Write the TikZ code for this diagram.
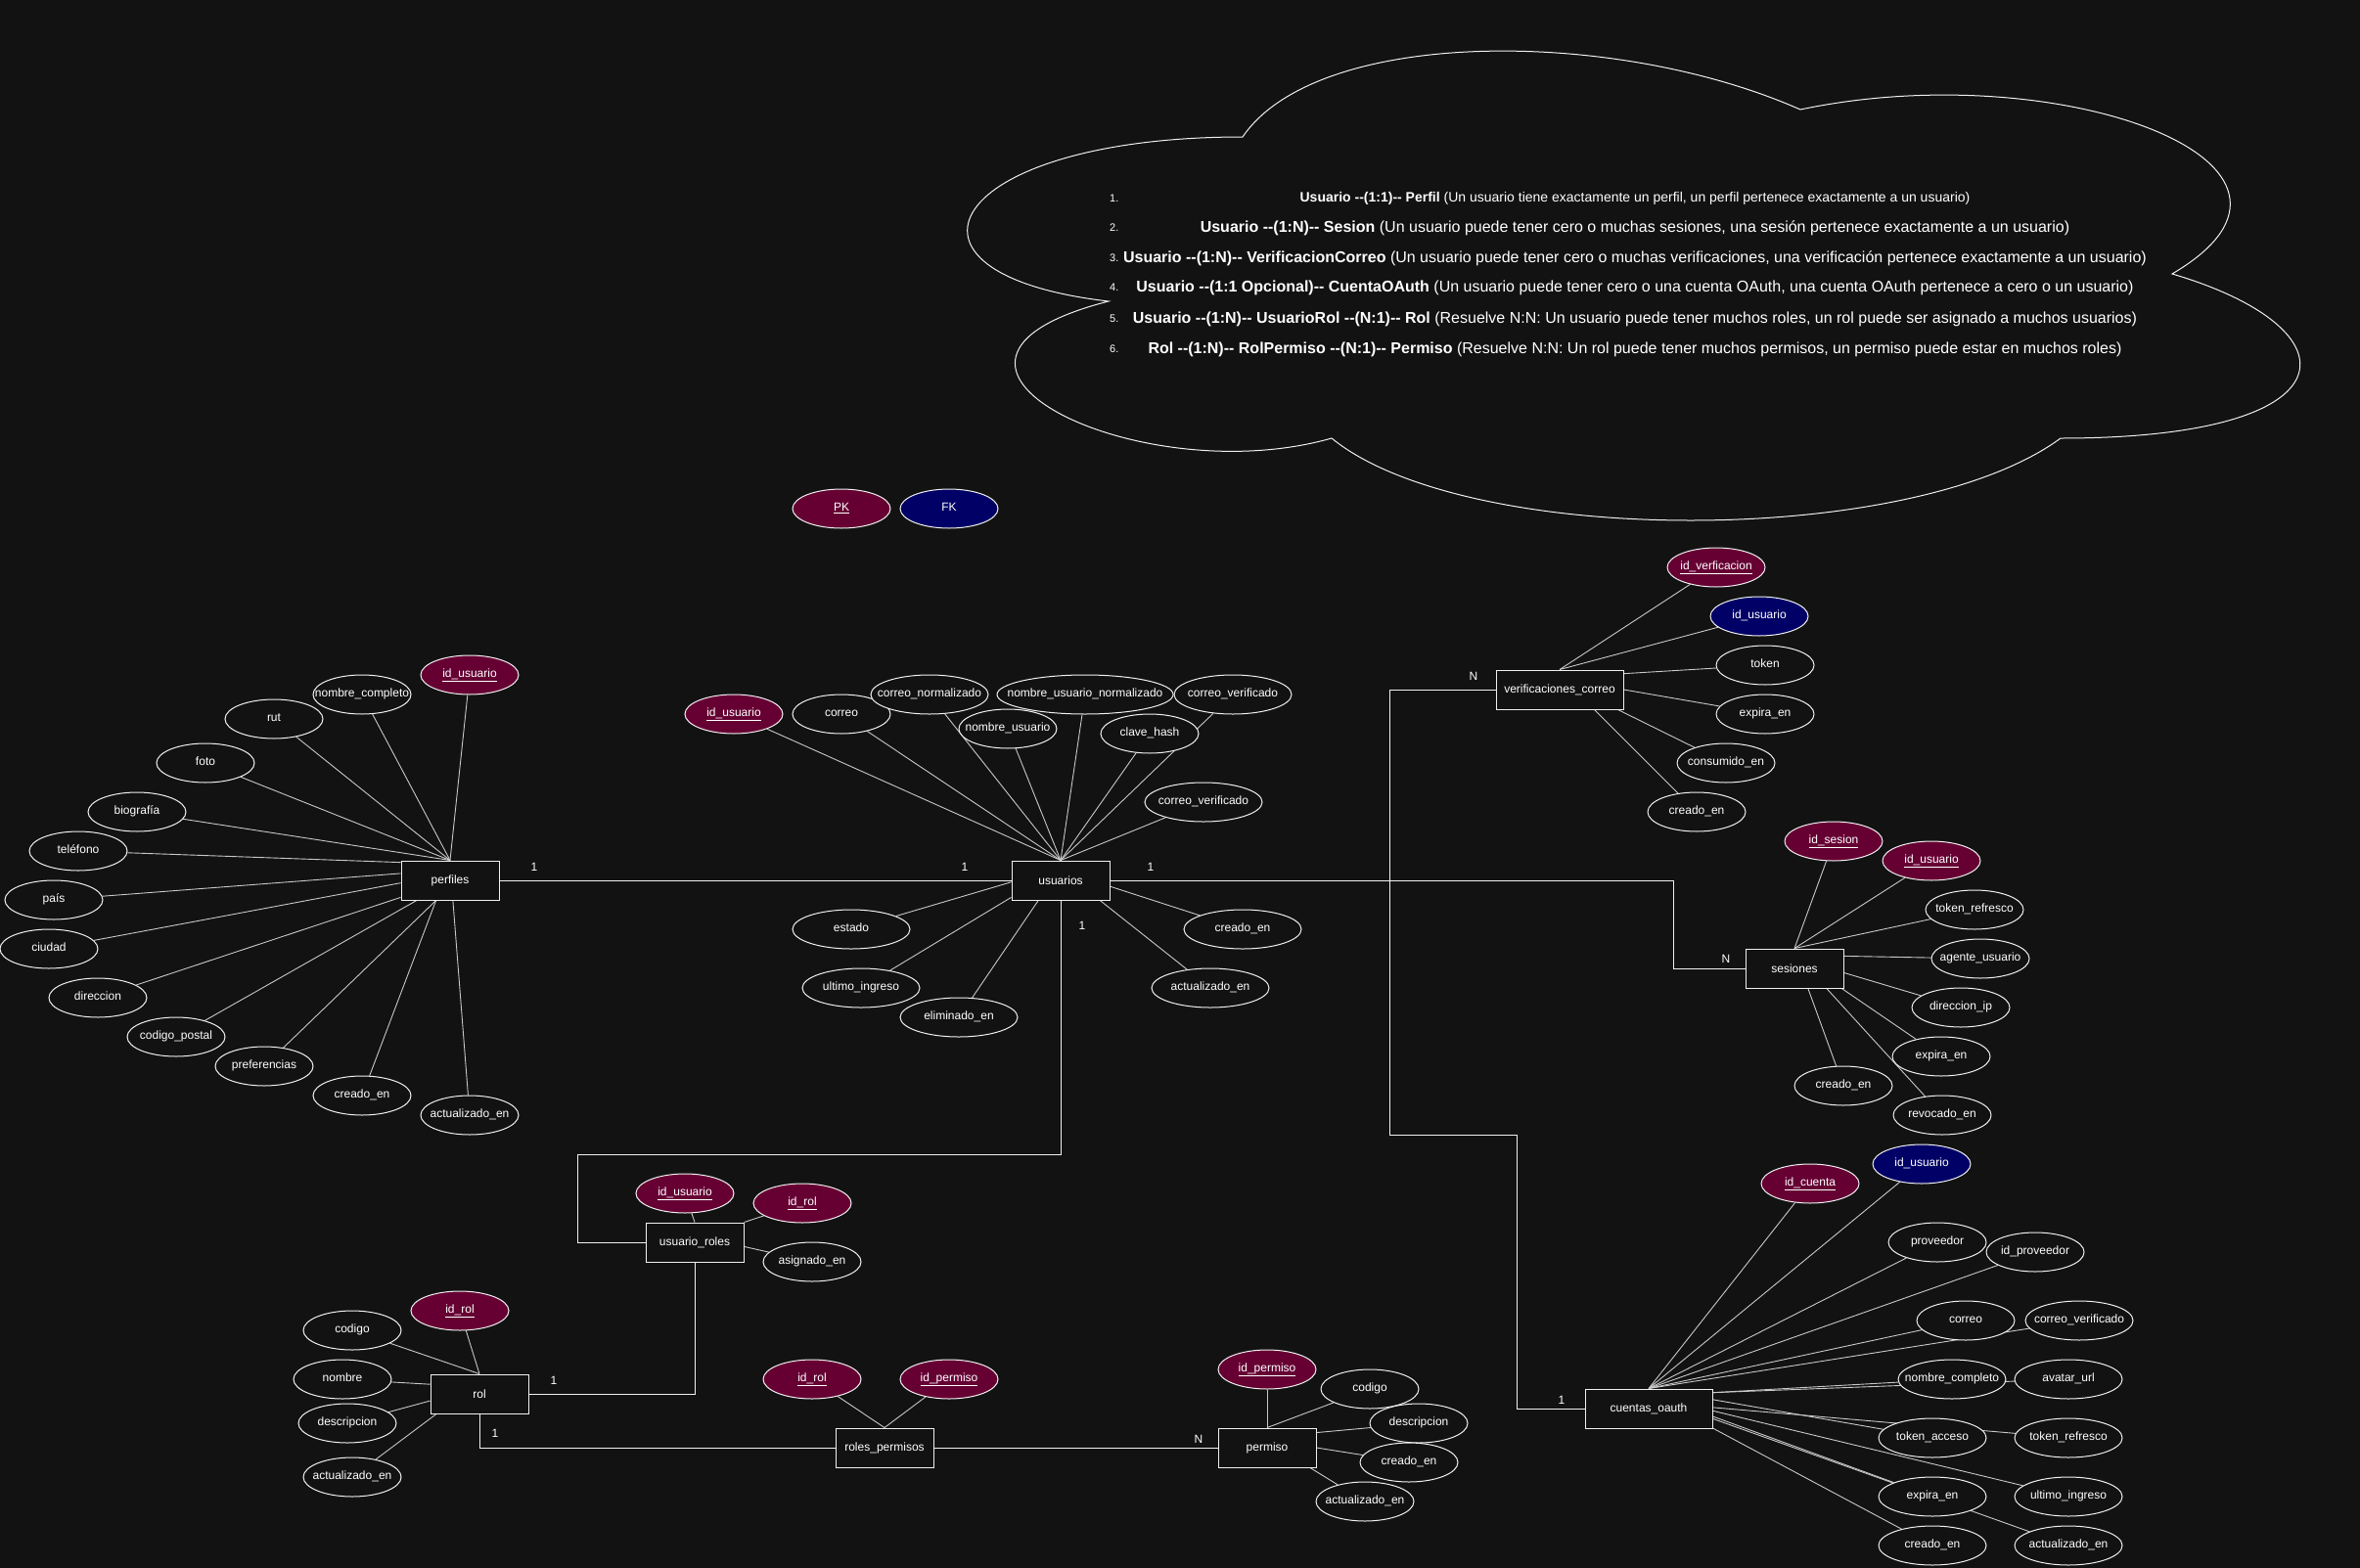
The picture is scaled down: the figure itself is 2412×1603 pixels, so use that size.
\documentclass[tikz,border=0pt]{standalone}
\usepackage{fontspec}
\setmainfont{Liberation Sans}
\usetikzlibrary{shapes.geometric}
\definecolor{bgc}{HTML}{121212}
\definecolor{pkc}{HTML}{660033}
\definecolor{fkc}{HTML}{000066}
\definecolor{linec}{HTML}{F0F0F0}
\definecolor{attrc}{HTML}{C8C8C8}
\pgfdeclarelayer{bg}
\pgfdeclarelayer{edges}
\pgfsetlayers{bg,edges,main}

\begin{document}
\begin{tikzpicture}
    [
        x = 1pt, y = -1pt,
        every node/.style        = {text=white, font=\fontsize{12}{14}\selectfont},
        entity/.style            = {draw=linec, line width=1pt, fill=bgc, minimum width=100pt, minimum height=40pt, inner sep=0pt},
        attr/.style              = {ellipse, draw=linec, line width=1pt, fill=bgc, minimum width=100pt, minimum height=40pt, inner sep=0pt,
                                    execute at begin node={\hbox to 0pt\bgroup\hss\strut}, execute at end node={\hss\egroup}},
        pk/.style                = {attr, fill=pkc},
        fk/.style                = {attr, fill=fkc},
        card/.style              = {inner sep=0pt},
        num/.style               = {anchor=west, inner sep=0pt, font=\fontsize{11}{13}\selectfont},
        note/.style              = {inner sep=0pt, font=\fontsize{16}{18}\selectfont},
        rel/.style               = {draw=linec, line width=1pt},
        link/.style              = {draw=attrc, line width=0.9pt}
    ]
    \useasboundingbox (0,0) rectangle (2412,1603);
    \begin{pgfonlayer}{bg}
        \fill [bgc] (0,0) rectangle (2412,1603);
    \end{pgfonlayer}

    \draw [linec, line width=1pt] (1270,140) .. controls (966,140) and (890,280) .. (1133,308)
        .. controls (890,370) and (1164,504) .. (1361,448)
        .. controls (1498,560) and (1954,560) .. (2106,448)
        .. controls (2410,448) and (2410,336) .. (2220,280)
        .. controls (2410,168) and (2106,56) .. (1840,112)
        .. controls (1650,28) and (1346,28) .. (1270,140) -- cycle;
    \foreach \i/\y in {1/203,2/233,3/264,4/294,5/326,6/357}
        \node [num] at (1134,\y) (num\i) {\i.};
    \node [note, font=\fontsize{14}{16}\selectfont] at (1671,203) (note1) {\textbf{Usuario -{}-(1:1)-{}- Perfil} (Un usuario tiene exactamente un perfil, un perfil pertenece exactamente a un usuario)};
    \node [note] at (1671,233) (note2) {\textbf{Usuario -{}-(1:N)-{}- Sesion} (Un usuario puede tener cero o muchas sesiones, una sesión pertenece exactamente a un usuario)};
    \node [note] at (1671,264) (note3) {\textbf{Usuario -{}-(1:N)-{}- VerificacionCorreo} (Un usuario puede tener cero o muchas verificaciones, una verificación pertenece exactamente a un usuario)};
    \node [note] at (1671,294) (note4) {\textbf{Usuario -{}-(1:1 Opcional)-{}- CuentaOAuth} (Un usuario puede tener cero o una cuenta OAuth, una cuenta OAuth pertenece a cero o un usuario)};
    \node [note] at (1671,326) (note5) {\textbf{Usuario -{}-(1:N)-{}- UsuarioRol -{}-(N:1)-{}- Rol} (Resuelve N:N: Un usuario puede tener muchos roles, un rol puede ser asignado a muchos usuarios)};
    \node [note] at (1671,357) (note6) {\textbf{Rol -{}-(1:N)-{}- RolPermiso -{}-(N:1)-{}- Permiso} (Resuelve N:N: Un rol puede tener muchos permisos, un permiso puede estar en muchos roles)};

    \node [pk] at (860,520) (legendPk) {\underline{PK}};
    \node [fk] at (970,520) (legendFk) {FK};

    \node [entity] at (460,900) (perfiles) {perfiles};
    \node [pk] at (480,690) (pId) {\underline{id\_usuario}};
    \node [attr] at (370,710) (pNombre) {nombre\_completo};
    \node [attr] at (280,735) (pRut) {rut};
    \node [attr] at (210,780) (pFoto) {foto};
    \node [attr] at (140,830) (pBio) {biografía};
    \node [attr] at (80,870) (pTel) {teléfono};
    \node [attr] at (55,920) (pPais) {país};
    \node [attr] at (50,970) (pCiudad) {ciudad};
    \node [attr] at (100,1020) (pDir) {direccion};
    \node [attr] at (180,1060) (pCodigo) {codigo\_postal};
    \node [attr] at (270,1090) (pPref) {preferencias};
    \node [attr] at (370,1120) (pCreado) {creado\_en};
    \node [attr] at (480,1140) (pAct) {actualizado\_en};

    \node [entity] at (1084,900) (usuarios) {usuarios};
    \node [pk] at (750,730) (uId) {\underline{id\_usuario}};
    \node [attr] at (860,730) (uCorreo) {correo};
    \node [attr, minimum width=120pt] at (950,710) (uCorreoNorm) {correo\_normalizado};
    \node [attr] at (1030,745) (uNombre) {nombre\_usuario};
    \node [attr, minimum width=180pt] at (1109,710) (uNombreNorm) {nombre\_usuario\_normalizado};
    \node [attr, minimum width=120pt] at (1260,710) (uVerif) {correo\_verificado};
    \node [attr] at (1175,750) (uClave) {clave\_hash};
    \node [attr, minimum width=120pt] at (1230,820) (uVerifDos) {correo\_verificado};
    \node [attr, minimum width=120pt] at (870,950) (uEstado) {estado};
    \node [attr, minimum width=120pt] at (880,1010) (uUltimo) {ultimo\_ingreso};
    \node [attr, minimum width=120pt] at (980,1040) (uElim) {eliminado\_en};
    \node [attr, minimum width=120pt] at (1270,950) (uCreado) {creado\_en};
    \node [attr, minimum width=120pt] at (1237,1010) (uAct) {actualizado\_en};

    \node [entity, minimum width=130pt] at (1594,705) (verificaciones) {verificaciones\_correo};
    \node [pk] at (1754,580) (vId) {\underline{id\_verficacion}};
    \node [fk] at (1798,630) (vUsuario) {id\_usuario};
    \node [attr] at (1804,680) (vToken) {token};
    \node [attr] at (1804,730) (vExpira) {expira\_en};
    \node [attr] at (1764,780) (vConsumido) {consumido\_en};
    \node [attr] at (1734,830) (vCreado) {creado\_en};

    \node [entity] at (1834,990) (sesiones) {sesiones};
    \node [pk] at (1874,860) (sId) {\underline{id\_sesion}};
    \node [pk] at (1974,880) (sUsuario) {\underline{id\_usuario}};
    \node [attr] at (2018,930) (sToken) {token\_refresco};
    \node [attr] at (2024,980) (sAgente) {agente\_usuario};
    \node [attr] at (2004,1030) (sDir) {direccion\_ip};
    \node [attr] at (1984,1080) (sExpira) {expira\_en};
    \node [attr] at (1884,1110) (sCreado) {creado\_en};
    \node [attr] at (1985,1140) (sRevocado) {revocado\_en};

    \node [entity, minimum width=130pt] at (1685,1440) (cuentas) {cuentas\_oauth};
    \node [pk] at (1850,1210) (cId) {\underline{id\_cuenta}};
    \node [fk] at (1964,1190) (cUsuario) {id\_usuario};
    \node [attr] at (1980,1270) (cProv) {proveedor};
    \node [attr] at (2080,1280) (cIdProv) {id\_proveedor};
    \node [attr] at (2009,1350) (cCorreo) {correo};
    \node [attr, minimum width=110pt] at (2125,1350) (cVerif) {correo\_verificado};
    \node [attr, minimum width=110pt] at (1995,1410) (cNombre) {nombre\_completo};
    \node [attr, minimum width=110pt] at (2114,1410) (cAvatar) {avatar\_url};
    \node [attr, minimum width=110pt] at (1975,1470) (cTokAcc) {token\_acceso};
    \node [attr, minimum width=110pt] at (2114,1470) (cTokRef) {token\_refresco};
    \node [attr, minimum width=110pt] at (1975,1530) (cExpira) {expira\_en};
    \node [attr, minimum width=110pt] at (2114,1530) (cUltimo) {ultimo\_ingreso};
    \node [attr, minimum width=110pt] at (1975,1580) (cCreado) {creado\_en};
    \node [attr, minimum width=110pt] at (2114,1580) (cAct) {actualizado\_en};

    \node [entity] at (710,1270) (usuarioRoles) {usuario\_roles};
    \node [pk] at (700,1220) (urUsuario) {\underline{id\_usuario}};
    \node [pk] at (820,1230) (urRol) {\underline{id\_rol}};
    \node [attr] at (830,1290) (urAsignado) {asignado\_en};

    \node [entity] at (490,1425) (rol) {rol};
    \node [pk] at (470,1340) (rId) {\underline{id\_rol}};
    \node [attr] at (360,1360) (rCodigo) {codigo};
    \node [attr] at (350,1410) (rNombre) {nombre};
    \node [attr] at (355,1455) (rDesc) {descripcion};
    \node [attr] at (360,1510) (rAct) {actualizado\_en};

    \node [entity] at (904,1480) (rolesPermisos) {roles\_permisos};
    \node [pk] at (830,1410) (rpRol) {\underline{id\_rol}};
    \node [pk] at (970,1410) (rpPermiso) {\underline{id\_permiso}};

    \node [entity] at (1295,1480) (permiso) {permiso};
    \node [pk] at (1295,1400) (peId) {\underline{id\_permiso}};
    \node [attr] at (1400,1420) (peCodigo) {codigo};
    \node [attr] at (1450,1455) (peDesc) {descripcion};
    \node [attr] at (1440,1495) (peCreado) {creado\_en};
    \node [attr] at (1395,1535) (peAct) {actualizado\_en};

    \node [card] at (546,886) (cardPerfil) {1};
    \node [card] at (986,886) (cardUsuPerfil) {1};
    \node [card] at (1176,886) (cardUsuDer) {1};
    \node [card] at (1106,946) (cardUsuAbajo) {1};
    \node [card] at (1506,691) (cardVerif) {N};
    \node [card] at (1764,980) (cardSesion) {N};
    \node [card] at (1596,1431) (cardCuenta) {1};
    \node [card] at (566,1411) (cardRolDer) {1};
    \node [card] at (506,1465) (cardRolAbajo) {1};
    \node [card] at (1225,1471) (cardPermiso) {N};

    \coordinate (bendV) at (1420,900);
    \coordinate (bendS) at (1710,900);
    \coordinate (bendC1) at (1420,1160);
    \coordinate (bendC2) at (1550,1160);
    \coordinate (bendR) at (590,1180);

    \begin{pgfonlayer}{edges}
    \draw [rel] (perfiles) -- (usuarios);
    \draw [rel] (usuarios.east) -- (bendS) |- (sesiones.west);
    \draw [rel] (usuarios.east) -- (bendV) |- (verificaciones.west);
    \draw [rel] (bendV) -- (bendC1) -- (bendC2) |- (cuentas.west);
    \draw [rel] (usuarios.south) |- (bendR) |- (usuarioRoles.west);
    \draw [rel] (usuarioRoles.south) |- (rol.east);
    \draw [rel] (rol.south) |- (rolesPermisos.west);
    \draw [rel] (rolesPermisos) -- (permiso);

    \foreach \a in {pId,pNombre,pRut,pFoto,pBio}
        \draw [link] (\a) -- (perfiles.north);
    \foreach \a/\t in {pTel/160,pPais/172,pCiudad/183,pDir/199,pCodigo/211,pPref/235,pCreado/235,pAct/278}
        \draw [link] (\a) -- (perfiles.\t);
    \foreach \a in {uId,uCorreo,uCorreoNorm,uNombre,uNombreNorm,uVerif,uClave,uVerifDos}
        \draw [link] (\a) -- (usuarios.north);
    \foreach \a/\t in {uEstado/182,uUltimo/199,uElim/222,uCreado/353,uAct/333}
        \draw [link] (\a) -- (usuarios.\t);
    \foreach \a in {vId,vUsuario}
        \draw [link] (\a) -- (verificaciones.north);
    \foreach \a/\t in {vToken/14,vExpira/0,vConsumido/341,vCreado/330}
        \draw [link] (\a) -- (verificaciones.\t);
    \foreach \a in {sId,sUsuario,sToken}
        \draw [link] (\a) -- (sesiones.north);
    \foreach \a/\t in {sAgente/14,sDir/355,sExpira/337,sRevocado/328,sCreado/304}
        \draw [link] (\a) -- (sesiones.\t);
    \foreach \a in {cId,cUsuario,cProv,cIdProv,cCorreo,cVerif}
        \draw [link] (\a) -- (cuentas.north);
    \foreach \a/\t in {cNombre/14,cAvatar/14,cTokAcc/8,cTokRef/1,cUltimo/358,cExpira/353,cAct/351,cCreado/343}
        \draw [link] (\a) -- (cuentas.\t);
    \draw [link] (urUsuario) -- (usuarioRoles.north);
    \draw [link] (urRol) -- (usuarioRoles.north east);
    \draw [link] (urAsignado) -- (usuarioRoles.355);
    \foreach \a in {rId,rCodigo}
        \draw [link] (\a) -- (rol.north);
    \foreach \a/\t in {rNombre/169,rDesc/188,rAct/205}
        \draw [link] (\a) -- (rol.\t);
    \foreach \a in {rpRol,rpPermiso}
        \draw [link] (\a) -- (rolesPermisos.north);
    \foreach \a in {peId,peCodigo}
        \draw [link] (\a) -- (permiso.north);
    \foreach \a/\t in {peDesc/17,peCreado/0,peAct/335}
        \draw [link] (\a) -- (permiso.\t);
    \end{pgfonlayer}
\end{tikzpicture}
\end{document}
